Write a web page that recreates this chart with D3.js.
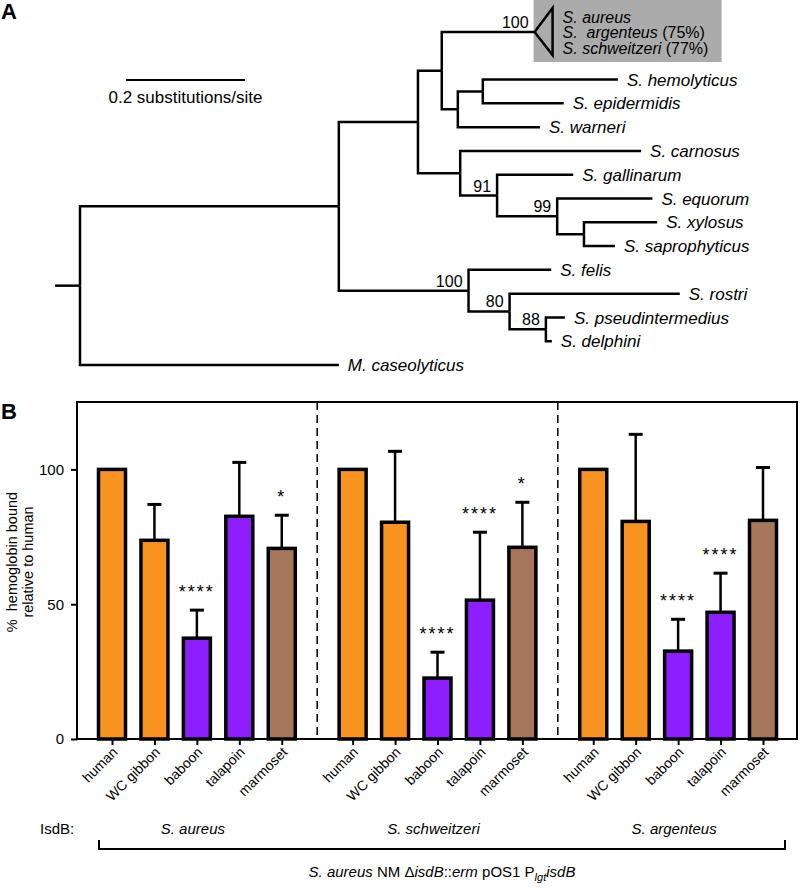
<!DOCTYPE html>
<html><head><meta charset="utf-8">
<script src="https://cdn.jsdelivr.net/npm/d3@7"></script>
<style>
body{margin:0;background:#fff}
svg text{font-family:"Liberation Sans", Arial, Helvetica, sans-serif;fill:#000}
</style>
</head><body>
<svg id="c" width="800" height="888" xmlns="http://www.w3.org/2000/svg"></svg>
<script>
// ---------- Panel A data: phylogenetic tree ----------
const treeNode   = ["root","staph","caseo","n418","n469","n442","n460","clade","n458","n483","hemo","epi","warn","carn","n497","gall","n557","equ","n584","xyl","sap","felis","n510","rostri","n546","pseud","delph"];
const treeParent = ["","root","root","staph","staph","n418","n418","n442","n442","n458","n483","n483","n458","n460","n460","n497","n497","n557","n557","n584","n584","n469","n469","n510","n510","n546","n546"];
const branchLength = [0,0.435,0.435,0.133,0.218,0.040,0.071,0.156,0.027,0.042,0.227,0.136,0.138,0.304,0.062,0.128,0.101,0.160,0.045,0.123,0.052,0.139,0.069,0.286,0.061,0.032,0.010];
const nodeSupport = ["","","","","100","","","100","","","","","","","91","","99","","","","","","80","","88","",""];
const leafLabel = {caseo:"M. caseolyticus",hemo:"S. hemolyticus",epi:"S. epidermidis",warn:"S. warneri",carn:"S. carnosus",gall:"S. gallinarum",equ:"S. equorum",xyl:"S. xylosus",sap:"S. saprophyticus",felis:"S. felis",rostri:"S. rostri",pseud:"S. pseudintermedius",delph:"S. delphini"};
const collapsedClade = [["S. aureus",""],["S.  argenteus"," (75%)"],["S. schweitzeri"," (77%)"]];
const rootStub = 0.042;
const scaleBarValue = 0.2;

// ---------- Panel B data: hemoglobin binding ----------
const hosts = ["human","WC gibbon","baboon","talapoin","marmoset"];
const hostColor = ["#F7931E","#F7931E","#8C1EFF","#8C1EFF","#A6765A"];
const isdbGroups = ["S. aureus","S. schweitzeri","S. argenteus"];
const meanAureus = [100,73.7,37.4,82.6,70.7];
const sdAureus   = [0,13.3,10.4,20.0,12.3];
const sigAureus  = ["","","****","","*"];
const meanSchweitzeri = [100,80.4,22.6,51.5,71.1];
const sdSchweitzeri   = [0,26.3,9.6,25.2,16.7];
const sigSchweitzeri  = ["","","****","****","*"];
const meanArgenteus = [100,80.7,32.6,47.0,81.1];
const sdArgenteus   = [0,32.3,11.8,14.5,19.6];
const sigArgenteus  = ["","","****","****",""];
const yTicks = [0,50,100];

const svg = d3.select("#c");

// ================= Panel A =================
svg.append("text").attr("x",1).attr("y",19).attr("font-size",22).attr("font-weight","bold").text("A");

const rows = treeNode.map((id,i)=>({id, parent:treeParent[i], len:branchLength[i], support:nodeSupport[i]}));
const root = d3.stratify().id(d=>d.id).parentId(d=>d.parent||null)(rows);
root.eachBefore(n=>{ n.dist = n.parent ? n.parent.dist + n.data.len : 0; });
let slot = 0;
root.leaves().forEach(l=>{
  const span = l.data.id==="clade" ? 3 : 1;
  l.slot = slot + (span-1)/2; slot += span;
});
const xT = d3.scaleLinear().domain([0,scaleBarValue]).range([80,199]);
const yT = d3.scaleLinear().domain([1,15]).range([32,365]);
root.eachAfter(n=>{
  if(!n.children) n.py = yT(n.slot);
  else n.py = (n.children[0].py + n.children[n.children.length-1].py)/2;
  n.px = xT(n.dist);
});

const gA = svg.append("g");
const branchPath = n => `M${n.parent.px},${n.parent.py}V${n.py}H${n.px}`;
const clade = root.descendants().find(n=>n.data.id==="clade");
gA.append("rect").attr("x",clade.px-1).attr("y",clade.py-32).attr("width",188).attr("height",62).attr("fill","#ABABAB");
gA.append("path").attr("d",`M${clade.px+18},${clade.py-24}L${clade.px},${clade.py}L${clade.px+18},${clade.py+23}Z`)
  .attr("fill","none").attr("stroke","#000").attr("stroke-width",2.5).attr("stroke-linejoin","miter");
collapsedClade.forEach((c,i)=>{
  const t = gA.append("text").attr("x",clade.px+28).attr("y",clade.py-9.5+i*15.5).attr("font-size",16).style("white-space","pre");
  t.append("tspan").attr("font-style","italic").text(c[0]);
  if(c[1]) t.append("tspan").text(c[1]);
});

gA.selectAll("path.br").data(root.descendants().filter(n=>n.parent)).join("path").attr("class","br")
  .attr("d",branchPath).attr("fill","none").attr("stroke","#000").attr("stroke-width",2.5);
gA.append("path").attr("d",`M${xT(-rootStub)},${root.py}H${root.px}`).attr("stroke","#000").attr("stroke-width",2.5);

gA.selectAll("text.leaf").data(root.leaves().filter(n=>leafLabel[n.data.id])).join("text").attr("class","leaf")
  .attr("x",n=>n.px+9).attr("y",n=>n.py).attr("dy","0.36em").attr("font-size",17).attr("font-style","italic")
  .text(n=>leafLabel[n.data.id]);
gA.selectAll("text.sup").data(root.descendants().filter(n=>n.data.support)).join("text").attr("class","sup")
  .attr("x",n=>n.px-6).attr("y",n=>n.py-4).attr("text-anchor","end").attr("font-size",16).text(n=>n.data.support);

gA.append("line").attr("x1",126).attr("x2",126+xT(scaleBarValue)-xT(0)).attr("y1",80).attr("y2",80).attr("stroke","#000").attr("stroke-width",2);
gA.append("text").attr("x",126+(xT(scaleBarValue)-xT(0))/2).attr("y",103).attr("text-anchor","middle").attr("font-size",17).text(scaleBarValue+" substitutions/site");

// ================= Panel B =================
svg.append("text").attr("x",1).attr("y",419).attr("font-size",22).attr("font-weight","bold").text("B");

const pLeft=77,pRight=797,pTop=402,pBottom=739;
const groupStride = 5.67;
const y = d3.scaleLinear().domain([0,125]).range([pBottom,pTop]);
const x = d3.scaleLinear().domain([0,2*groupStride+4]).range([112,763]);

const means=[meanAureus,meanSchweitzeri,meanArgenteus], sds=[sdAureus,sdSchweitzeri,sdArgenteus], sigs=[sigAureus,sigSchweitzeri,sigArgenteus];
const bars=[];
isdbGroups.forEach((g,gi)=>hosts.forEach((h,hi)=>bars.push({g:gi,h:hi,label:h,pos:gi*groupStride+hi,mean:means[gi][hi],sd:sds[gi][hi],sig:sigs[gi][hi],color:hostColor[hi]})));

const gB = svg.append("g");
[0,1].forEach(k=>{
  const px = x(k*groupStride+4+(groupStride-4)/2);
  gB.append("line").attr("x1",px).attr("x2",px).attr("y1",pTop).attr("y2",pBottom).attr("stroke","#000").attr("stroke-width",1.5).attr("stroke-dasharray","8,5");
});
const eb = gB.selectAll("g.eb").data(bars.filter(b=>b.sd>0)).join("g").attr("class","eb");
eb.append("line").attr("x1",b=>x(b.pos)).attr("x2",b=>x(b.pos)).attr("y1",b=>y(b.mean)).attr("y2",b=>y(b.mean+b.sd)).attr("stroke","#000").attr("stroke-width",2.5);
eb.append("line").attr("x1",b=>x(b.pos)-7).attr("x2",b=>x(b.pos)+7).attr("y1",b=>y(b.mean+b.sd)).attr("y2",b=>y(b.mean+b.sd)).attr("stroke","#000").attr("stroke-width",3);
gB.selectAll("rect.bar").data(bars).join("rect").attr("class","bar")
  .attr("x",b=>x(b.pos)-13.5).attr("width",27).attr("y",b=>y(b.mean)).attr("height",b=>y(0)-y(b.mean))
  .attr("fill",b=>b.color).attr("stroke","#000").attr("stroke-width",3.5);
gB.selectAll("text.sig").data(bars.filter(b=>b.sig)).join("text").attr("class","sig")
  .attr("x",b=>x(b.pos)).attr("y",b=>y(b.mean+b.sd)-12).attr("text-anchor","middle").attr("font-size",18).attr("letter-spacing",2)
  .text(b=>b.sig);
gB.append("rect").attr("x",pLeft).attr("y",pTop).attr("width",pRight-pLeft).attr("height",pBottom-pTop).attr("fill","none").attr("stroke","#000").attr("stroke-width",2);
const ya = gB.append("g").attr("transform",`translate(${pLeft},0)`).call(d3.axisLeft(y).tickValues(yTicks).tickSize(6).tickFormat(d3.format("d")));
ya.select(".domain").remove();
ya.selectAll("line").attr("stroke","#000").attr("stroke-width",2);
ya.selectAll("text").attr("font-size",15).attr("font-family","Liberation Sans, Arial, sans-serif").attr("x",-13);
const xa = gB.append("g").attr("transform",`translate(0,${pBottom})`)
  .call(d3.axisBottom(x).tickValues(bars.map(b=>b.pos)).tickSize(6).tickFormat((d,i)=>bars[i].label));
xa.select(".domain").remove();
xa.selectAll("line").attr("stroke","#000").attr("stroke-width",2);
xa.selectAll("text").attr("font-size",14).attr("font-family","Liberation Sans, Arial, sans-serif")
  .attr("text-anchor","end").attr("dy",null).attr("y",0).attr("x",0)
  .attr("transform","translate(6,14) rotate(-45)");
const yl = gB.append("text").attr("transform",`translate(17,562) rotate(-90)`).attr("text-anchor","middle").attr("font-size",14.5);
yl.append("tspan").attr("x",0).attr("dy",0).style("white-space","pre").text("%  hemoglobin bound");
yl.append("tspan").attr("x",0).attr("dy",16).text("relative to human");

gB.append("text").attr("x",40).attr("y",834).attr("font-size",15).text("IsdB:");
isdbGroups.forEach((g,gi)=>{
  gB.append("text").attr("x",(x(gi*groupStride)+x(gi*groupStride+4))/2-4).attr("y",834).attr("text-anchor","middle")
    .attr("font-size",15).attr("font-style","italic").text(g);
});
gB.append("path").attr("d","M99,840V849H785V840").attr("fill","none").attr("stroke","#000").attr("stroke-width",2);
const bt = gB.append("text").attr("x",442).attr("y",877).attr("text-anchor","middle").attr("font-size",15).style("white-space","pre");
bt.append("tspan").attr("font-style","italic").text("S. aureus");
bt.append("tspan").text(" NM \u0394");
bt.append("tspan").attr("font-style","italic").text("isdB");
bt.append("tspan").text("::");
bt.append("tspan").attr("font-style","italic").text("erm");
bt.append("tspan").text(" pOS1 P");
bt.append("tspan").attr("font-style","italic").attr("font-size",11).attr("dy",4).text("lgt");
bt.append("tspan").attr("font-style","italic").attr("dy",-4).text("isdB");
</script>
</body></html>
